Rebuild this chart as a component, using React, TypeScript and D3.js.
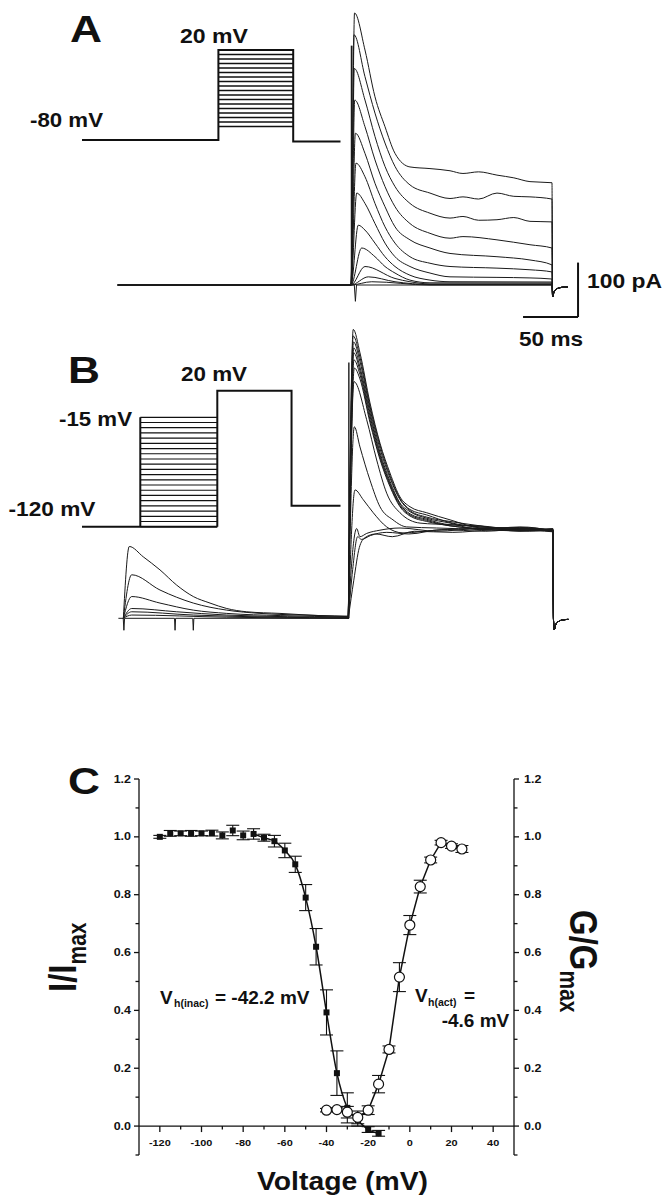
import React from 'react';
import * as d3 from 'd3';

const FONT = '"Liberation Sans", Arial, Helvetica, sans-serif';

// ---------------- Panel A : voltage protocol (mV, ms) ----------------
const protoAHold = -80;
const protoASteps = [-65, -60, -55, -50, -45, -40, -35, -30, -25, -20, -15, -10, -5, 0, 5, 10, 15, 20];
const protoATimes = [0, 124, 192, 235];

// ---------------- Panel A : currents ([ms, pA]) ----------------
const aTrace1 = [[0,0],[3.2,500],[12.7,432],[21.8,346],[30.9,291],[40,242],[53.6,217],[71.8,214],[90,210],[101.8,205],[116,208],[132.7,202],[148,197],[162.7,190],[182.7,188]];
const aTrace2 = [[0,0],[2.7,460],[12.7,383],[21.8,316],[30.9,261],[40,218],[53.6,184],[71.8,169],[90,159],[101.8,162],[116,158],[132.7,169],[148,163],[162.7,162],[182.7,158]];
const aTrace3 = [[0,0],[3,398],[12.7,340],[21.8,273],[30.9,218],[40,181],[53.6,150],[71.8,132],[90,123],[101.8,126],[116,119],[132.7,120],[148,124],[162.7,117],[182.7,116]];
const aTrace4 = [[0,0],[3.4,340],[12.7,291],[21.8,230],[30.9,181],[40,144],[53.6,113],[71.8,95],[90,86],[101.8,89],[132.7,83],[162.7,74],[182.7,68]];
const aTrace5 = [[0,0],[4,279],[12.7,242],[21.8,187],[30.9,144],[40,107],[53.6,83],[71.8,68],[90,58],[132.7,52],[162.7,46],[182.7,37]];
const aTrace6 = [[0,0],[4.5,224],[12.7,199],[21.8,150],[30.9,107],[40,77],[53.6,52],[71.8,40],[90,34],[132.7,31],[162.7,28],[182.7,24]];
const aTrace7 = [[0,0],[5.2,169],[12.7,150],[21.8,113],[30.9,77],[40,52],[53.6,34],[71.8,22],[90,15],[132.7,14],[162.7,13],[182.7,11]];
const aTrace8 = [[0,0],[6.6,110],[12.7,101],[21.8,77],[30.9,52],[40,34],[53.6,18],[71.8,9],[90,6],[182.7,5.5]];
const aTrace9 = [[0,0],[9.7,68],[21.8,52],[30.9,34],[40,22],[53.6,9],[71.8,4],[182.7,3.7]];
const aTrace10 = [[0,0],[12.7,34],[40,12],[53.6,6],[71.8,2],[182.7,2]];
const aTrace11 = [[0,0],[15.7,15],[40,6],[71.8,1],[182.7,1]];
const aTrace12 = [[0,0],[18.8,6],[71.8,0],[182.7,0]];
const aFlat = [[0,0],[3,0],[4,-30],[5,0],[182.7,0]];
const aLead = [[-212,0],[-0.2,0]];
const aTail = [[183.3,-22],[184.5,-13],[187,-7],[191,-4.5],[197,-3.5]];

// scale bar values
const barTimeMs = 50;
const barCurrentPA = 100;
const barCornerA = [206.4, -58.8];

// ---------------- Panel B : voltage protocol ----------------
const protoBHold = -120;
const protoBPrepulses = [-120, -115, -110, -105, -100, -95, -90, -85, -80, -75, -70, -65, -60, -55, -50, -45, -40, -35, -30, -25, -20, -15];
const protoBTest = 20;
const protoBPost = -100;
const protoBTimes = [0, 53, 123, 190.5, 235];

// ---------------- Panel B : currents ([ms, pA]) ----------------
const bBase = [[-209,0],[-204.6,0],[-204,-22],[-203.4,0],[-158,0],[-157.5,-22],[-157,0],[-141.4,0],[-140.9,-22],[-140.4,0],[0,0]];
const bPre1 = [[-204.5,0],[-199.1,132],[-186.4,113],[-171.2,89],[-156,61],[-140.9,40],[-125.7,28],[-110.5,18],[-92.4,12],[-62.1,9],[-25.7,5],[0,4]];
const bPre2 = [[-204.5,0],[-196.9,80],[-171.2,52],[-140.9,28],[-110.5,15],[-80.3,9],[-25.7,5],[0,3]];
const bPre3 = [[-204.5,0],[-196.9,40],[-171.2,28],[-140.9,15],[-110.5,9],[-62,5],[0,2.4]];
const bPre4 = [[-204.5,0],[-196.9,18],[-156,12],[-110.5,6],[0,1.5]];
const bPre5 = [[-204.5,0],[-196.9,12],[-140.9,6],[0,0.5]];
const bPre6 = [[-204.5,0],[-196.9,6],[-110.5,2],[0,0]];
const bBig1 = [[0,0],[4.5,531],[10.6,488],[19.7,396],[28.8,322],[37.9,267],[47,223],[56.1,205],[71.3,194],[92.5,181],[119.7,166],[156,162],[186,159]];
const bBig2 = [[0,0],[4.5,519],[10.6,480],[19.7,390],[28.8,318],[37.9,262],[47,220],[56.1,200],[71.3,190],[92.5,176],[119.7,168],[156,165],[186,162]];
const bBig3 = [[0,0],[4.8,508],[10.6,472],[19.7,385],[28.8,312],[37.9,258],[47,218],[56.1,198],[71.3,186],[92.5,178],[119.7,170],[156,160],[186,165]];
const bBig4 = [[0,0],[5,497],[10.6,462],[19.7,378],[28.8,305],[37.9,252],[47,212],[56.1,196],[71.3,184],[92.5,175],[119.7,163],[156,168],[186,160]];
const bBig5 = [[0,0],[5,488],[10.6,455],[19.7,372],[28.8,300],[37.9,248],[47,210],[56.1,192],[71.3,182],[92.5,172],[119.7,170],[156,163],[186,163]];
const bBig6 = [[0,0],[5.2,475],[10.6,448],[19.7,365],[28.8,296],[37.9,245],[47,207],[56.1,190],[71.3,180],[92.5,170],[119.7,166],[156,166],[186,161]];
const bBig7 = [[0,0],[5.5,460],[10.6,440],[19.7,360],[28.8,292],[37.9,242],[47,205],[56.1,188],[71.3,178],[92.5,170],[119.7,164],[156,161],[186,164]];
const bMid1 = [[0,0],[5.2,435],[16.7,365],[25.8,291],[34.9,230],[47,194],[65.2,175],[92.5,172],[120,168],[156,165],[186,162]];
const bMid2 = [[0,0],[5.5,352],[10.6,315],[19.7,254],[28.8,205],[40.6,181],[53,168],[80,166],[120,164],[156,167],[186,161]];
const bMid3 = [[0,0],[6.1,236],[13.6,218],[22.7,194],[34.9,168],[49.7,157],[80,162],[120,165],[156,163],[186,160]];
const bFlat1 = [[0,0],[3,100],[7.6,165],[10.6,150],[16.7,156],[28.8,162],[47,166],[80,160],[120,165],[156,162],[186,161]];
const bFlat2 = [[0,0],[4,90],[8.5,150],[12,145],[20,152],[35,158],[55,155],[85,163],[125,160],[160,165],[186,162]];
const bFlat3 = [[0,0],[5,70],[10,130],[15,148],[25,155],[40,150],[60,160],[95,158],[130,162],[165,160],[186,163]];
const bTail = [[186.5,0],[187.2,-21],[188.5,-12],[191,-6],[195,-3],[200,-2]];

// ---------------- Panel C : steady-state inactivation & activation ----------------
const inacV = [-120,-115,-110,-105,-100,-95,-90,-85,-80,-75,-70,-65,-60,-55,-50,-45,-40,-35,-30,-25,-20,-15];
const inacI = [1.0,1.012,1.012,1.012,1.012,1.013,1.005,1.022,1.005,1.01,0.997,0.985,0.953,0.905,0.79,0.62,0.393,0.183,0.063,0.02,-0.012,-0.025];
const inacErr = [0.005,0.01,0.008,0.01,0.008,0.01,0.012,0.018,0.015,0.018,0.012,0.02,0.025,0.028,0.045,0.063,0.078,0.077,0.052,0.02,0.01,0.01];
const actV = [-40,-35,-30,-25,-20,-15,-10,-5,0,5,10,15,20,25];
const actG = [0.055,0.057,0.048,0.03,0.055,0.145,0.265,0.515,0.695,0.828,0.92,0.98,0.968,0.958];
const actErr = [0.006,0.006,0.02,0.022,0.015,0.03,0.012,0.05,0.033,0.022,0.01,0.008,0.008,0.012];
const yMajorTicks = [0, 0.2, 0.4, 0.6, 0.8, 1.0, 1.2];
const yMinorTicks = [-0.1, 0.1, 0.3, 0.5, 0.7, 0.9, 1.1];
const xMajorTicks = [-120, -100, -80, -60, -40, -20, 0, 20, 40];
const xMinorTicks = [-110, -90, -70, -50, -30, -10, 10, 30];

type P = number[];

function Txt(props: any) {
  const { x, y, size, len, children, anchor = 'start', rotate = 0, sx = 1, weight = 'bold' } = props;
  return (
    <text
      transform={`translate(${x},${y}) scale(${sx},1) rotate(${rotate})`}
      fontSize={size}
      fontFamily={FONT}
      fontWeight={weight}
      textAnchor={anchor}
      textLength={len}
      lengthAdjust={len ? 'spacingAndGlyphs' : undefined}
      fill="#111"
    >
      {children}
    </text>
  );
}

export default function App() {
  // Panel A scales
  const xA = d3.scaleLinear().domain([0, 100]).range([351, 461]);
  const yA = d3.scaleLinear().domain([0, 100]).range([285, 230.6]);
  // Panel B scales
  const xB = d3.scaleLinear().domain([0, 100]).range([348.3, 458.3]);
  const yB = d3.scaleLinear().domain([0, 100]).range([618.3, 563.9]);
  // Protocol scales
  const xP = d3.scaleLinear().domain([0, 100]).range([82, 192]);
  const yPA = d3.scaleLinear().domain([-80, 20]).range([140, 50]);
  const yPB = d3.scaleLinear().domain([-120, -15, 20]).range([526.7, 417.3, 390.7]);
  // Panel C scales
  const xC = d3.scaleLinear().domain([-130, 50]).range([139, 514]);
  const yC = d3.scaleLinear().domain([-0.1, 1.2]).range([1155, 779]);

  const lineA = d3.line<P>().x(d => xA(d[0])).y(d => yA(d[1])).curve(d3.curveMonotoneX);
  const lineALin = d3.line<P>().x(d => xA(d[0])).y(d => yA(d[1]));
  const lineB = d3.line<P>().x(d => xB(d[0])).y(d => yB(d[1])).curve(d3.curveMonotoneX);
  const lineBLin = d3.line<P>().x(d => xB(d[0])).y(d => yB(d[1]));

  const aTraces = [aTrace1, aTrace2, aTrace3, aTrace4, aTrace5, aTrace6, aTrace7, aTrace8, aTrace9, aTrace10, aTrace11, aTrace12];
  const bPre = [bPre1, bPre2, bPre3, bPre4, bPre5, bPre6];
  const bTest = [bBig1, bBig2, bBig3, bBig4, bBig5, bBig6, bBig7, bMid1, bMid2, bMid3, bFlat1, bFlat2, bFlat3];

  // protocol A path
  const [ta0, ta1, ta2, ta3] = protoATimes;
  const topA = protoASteps[protoASteps.length - 1];
  const protoAPath = `M${xP(ta0)},${yPA(protoAHold)}H${xP(ta1)}V${yPA(topA)}H${xP(ta2)}V${yPA(protoAHold) + 1.5}H${xP(ta3)}`;
  // protocol B path
  const [tb0, tb1, tb2, tb3, tb4] = protoBTimes;
  const topB = protoBPrepulses[protoBPrepulses.length - 1];
  const protoBPath = `M${xP(tb0)},${yPB(protoBHold)}H${xP(tb2)}M${xP(tb1)},${yPB(protoBHold)}V${yPB(topB)}M${xP(tb2)},${yPB(protoBHold)}V${yPB(protoBTest)}H${xP(tb3)}V${yPB(protoBPost)}H${xP(tb4)}`;

  // panel C lines
  const inacLinePts = inacV.map((v, i) => [v, inacI[i]]).filter(d => d[0] >= -75);
  const actLinePts = actV.map((v, i) => [v, actG[i]]).filter(d => d[0] >= -25);
  const lineC = d3.line<P>().x(d => xC(d[0])).y(d => yC(d[1])).curve(d3.curveMonotoneX);
  const lineCLin = d3.line<P>().x(d => xC(d[0])).y(d => yC(d[1]));

  const cap = 6.5;
  const traceColor = '#1a1a1a';

  return (
    <svg width={666} height={1200} style={{ position: 'absolute', left: 0, top: 0, background: '#fff' }}>
      <rect x={0} y={0} width={666} height={1200} fill="#fff" />

      {/* ================= Panel A ================= */}
      <Txt x={70} y={42} size={37} len={32}>A</Txt>
      <Txt x={180} y={43} size={20} len={68}>20 mV</Txt>
      <Txt x={30} y={127} size={20} len={73}>-80 mV</Txt>
      <g stroke="#111" fill="none">
        {protoASteps.map((v, i) => (
          <line key={i} x1={xP(ta1)} x2={xP(ta2)} y1={yPA(v)} y2={yPA(v)} strokeWidth={1.3} />
        ))}
        <path d={protoAPath} strokeWidth={2} />
      </g>
      <g stroke={traceColor} fill="none" strokeWidth={1}>
        <path d={lineALin([...aLead, ...aFlat, ...aTail]) || ''} />
        {aTraces.map((t, i) => (
          <path key={i} d={lineA([...aLead, ...t, ...aTail]) || ''} />
        ))}
        <line x1={xA(0.6)} x2={xA(0.6)} y1={yA(0)} y2={yA(440)} strokeWidth={1.8} />
      </g>
      {/* scale bars */}
      <g stroke="#111" strokeWidth={2} fill="none">
        <line x1={xA(barCornerA[0] - barTimeMs)} x2={xA(barCornerA[0])} y1={yA(barCornerA[1])} y2={yA(barCornerA[1])} />
        <line x1={xA(barCornerA[0])} x2={xA(barCornerA[0])} y1={yA(barCornerA[1])} y2={yA(barCornerA[1] + barCurrentPA)} />
      </g>
      <Txt x={587} y={288} size={21} len={75}>100 pA</Txt>
      <Txt x={519} y={346} size={21} len={64}>50 ms</Txt>

      {/* ================= Panel B ================= */}
      <Txt x={68} y={383} size={37} len={32}>B</Txt>
      <Txt x={181} y={381} size={20} len={66}>20 mV</Txt>
      <Txt x={59} y={426} size={20} len={73}>-15 mV</Txt>
      <Txt x={8.5} y={516} size={20} len={87}>-120 mV</Txt>
      <g stroke="#111" fill="none">
        {protoBPrepulses.map((v, i) => (
          <line key={i} x1={xP(tb1)} x2={xP(tb2)} y1={yPB(v)} y2={yPB(v)} strokeWidth={1.2} />
        ))}
        <path d={protoBPath} strokeWidth={2} />
      </g>
      <g stroke={traceColor} fill="none" strokeWidth={1}>
        <path d={lineBLin(bBase) || ''} />
        {bPre.map((t, i) => (
          <path key={'p' + i} d={lineB(t) || ''} />
        ))}
        {bTest.map((t, i) => (
          <path key={'t' + i} d={lineB([...t, ...bTail]) || ''} />
        ))}
        <line x1={xB(0.5)} x2={xB(0.5)} y1={yB(0)} y2={yB(470)} strokeWidth={1.4} />
      </g>

      {/* ================= Panel C ================= */}
      <Txt x={68} y={794} size={37} len={32}>C</Txt>
      <g stroke="#111" strokeWidth={1.3} fill="none">
        <line x1={xC(-130)} x2={xC(-130)} y1={yC(-0.1)} y2={yC(1.2)} />
        <line x1={xC(50)} x2={xC(50)} y1={yC(-0.1)} y2={yC(1.2)} />
        <line x1={xC(-130)} x2={xC(50)} y1={yC(0)} y2={yC(0)} />
        {yMajorTicks.map(v => (
          <g key={'ym' + v}>
            <line x1={xC(-130) - 5} x2={xC(-130)} y1={yC(v)} y2={yC(v)} />
            <line x1={xC(50)} x2={xC(50) + 5} y1={yC(v)} y2={yC(v)} />
          </g>
        ))}
        {yMinorTicks.map(v => (
          <g key={'yn' + v}>
            <line x1={xC(-130) - 3.5} x2={xC(-130)} y1={yC(v)} y2={yC(v)} />
            <line x1={xC(50)} x2={xC(50) + 3.5} y1={yC(v)} y2={yC(v)} />
          </g>
        ))}
        {xMajorTicks.map(v => (
          <line key={'xm' + v} x1={xC(v)} x2={xC(v)} y1={yC(0)} y2={yC(0) + 6} />
        ))}
        {xMinorTicks.map(v => (
          <line key={'xn' + v} x1={xC(v)} x2={xC(v)} y1={yC(0)} y2={yC(0) + 3.5} />
        ))}
      </g>
      {yMajorTicks.map(v => (
        <g key={'yl' + v}>
          <Txt x={xC(-130) - 8} y={yC(v) + 3.6} size={10} sx={1.25} anchor="end">{d3.format('.1f')(v)}</Txt>
          <Txt x={xC(50) + 10} y={yC(v) + 3.6} size={10} sx={1.25}>{d3.format('.1f')(v)}</Txt>
        </g>
      ))}
      {xMajorTicks.map(v => (
        <Txt key={'xl' + v} x={xC(v)} y={1146} size={9.5} sx={1.15} anchor="middle">{String(v)}</Txt>
      ))}

      {/* fit lines */}
      <path d={lineC(inacLinePts) || ''} stroke="#111" strokeWidth={1.5} fill="none" />
      <path d={lineCLin(actLinePts) || ''} stroke="#111" strokeWidth={1.5} fill="none" />

      {/* error bars */}
      <g stroke="#111" strokeWidth={1.1}>
        {inacV.map((v, i) => (
          <g key={'ie' + v}>
            <line x1={xC(v)} x2={xC(v)} y1={yC(inacI[i] - inacErr[i])} y2={yC(inacI[i] + inacErr[i])} />
            <line x1={xC(v) - cap} x2={xC(v) + cap} y1={yC(inacI[i] - inacErr[i])} y2={yC(inacI[i] - inacErr[i])} />
            <line x1={xC(v) - cap} x2={xC(v) + cap} y1={yC(inacI[i] + inacErr[i])} y2={yC(inacI[i] + inacErr[i])} />
          </g>
        ))}
        {actV.map((v, i) => (
          <g key={'ae' + v}>
            <line x1={xC(v)} x2={xC(v)} y1={yC(actG[i] - actErr[i])} y2={yC(actG[i] + actErr[i])} />
            <line x1={xC(v) - cap} x2={xC(v) + cap} y1={yC(actG[i] - actErr[i])} y2={yC(actG[i] - actErr[i])} />
            <line x1={xC(v) - cap} x2={xC(v) + cap} y1={yC(actG[i] + actErr[i])} y2={yC(actG[i] + actErr[i])} />
          </g>
        ))}
      </g>

      {/* markers */}
      {inacV.map((v, i) => (
        <rect key={'sq' + v} x={xC(v) - 3} y={yC(inacI[i]) - 3} width={6} height={6} fill="#111" />
      ))}
      {actV.map((v, i) => (
        <circle key={'ci' + v} cx={xC(v)} cy={yC(actG[i])} r={5} fill="#fff" stroke="#111" strokeWidth={1.2} />
      ))}

      {/* annotations */}
      <Txt x={160} y={1003.5} size={19}>V</Txt>
      <Txt x={174} y={1007} size={10.5}>h(inac)</Txt>
      <Txt x={215} y={1003.5} size={19}>= -42.2 mV</Txt>
      <Txt x={415} y={1002} size={19}>V</Txt>
      <Txt x={428} y={1006} size={10.5}>h(act)</Txt>
      <Txt x={464} y={1002} size={19}>=</Txt>
      <Txt x={441.7} y={1027} size={19}>-4.6 mV</Txt>

      {/* axis titles */}
      <text transform="translate(76,992) scale(1.2,1) rotate(-90)" fontFamily={FONT} fontWeight="bold" fontSize={33} fill="#111">
        I/I<tspan fontSize={21} dy={8}>max</tspan>
      </text>
      <text transform="translate(570,910) scale(1.2,1) rotate(90)" fontFamily={FONT} fontWeight="bold" fontSize={33} fill="#111">
        G/G<tspan fontSize={21} dy={8}>max</tspan>
      </text>
      <Txt x={257} y={1190} size={26} len={171}>Voltage (mV)</Txt>
    </svg>
  );
}
